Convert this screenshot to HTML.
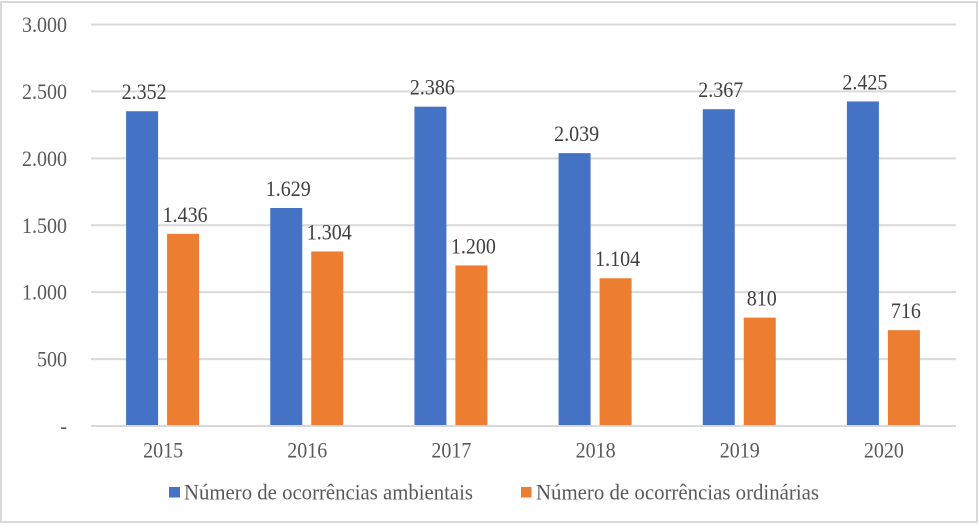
<!DOCTYPE html>
<html lang="pt">
<head>
<meta charset="utf-8">
<title>Número de ocorrências</title>
<style>
html,body{margin:0;padding:0;background:#fff;}
body{width:979px;height:525px;overflow:hidden;}
svg{display:block;font-family:"Liberation Serif",serif;}
</style>
</head>
<body>
<svg id="chart" width="979" height="525" viewBox="0 0 979 525" xmlns="http://www.w3.org/2000/svg">
  <rect x="1" y="2" width="976" height="520" fill="#fff" stroke="#d9d9d9" stroke-width="2"/>
  <g id="grid"></g>
  <g id="bars"></g>
  <g id="labels"></g>
  <g id="ticks"></g>
  <g>
    <rect x="169" y="487" width="11" height="10.5" fill="#4472c4"/>
    <text transform="translate(184 499.5) scale(1 1.08)" font-size="20.5" fill="#595959" textLength="289" lengthAdjust="spacingAndGlyphs">Número de ocorrências ambientais</text>
    <rect x="521" y="487" width="10.5" height="10.5" fill="#ed7d31"/>
    <text transform="translate(536 499.5) scale(1 1.08)" font-size="20.5" fill="#595959" textLength="283" lengthAdjust="spacingAndGlyphs">Número de ocorrências ordinárias</text>
  </g>
</svg>
<script>
const categories = ['2015', '2016', '2017', '2018', '2019', '2020'];
const ambientais = [2352, 1629, 2386, 2039, 2367, 2425];
const ordinarias = [1436, 1304, 1200, 1104, 810, 716];
const ambientaisLabels = ['2.352', '1.629', '2.386', '2.039', '2.367', '2.425'];
const ordinariasLabels = ['1.436', '1.304', '1.200', '1.104', '810', '716'];
const yTicks = [0, 500, 1000, 1500, 2000, 2500, 3000];
const yTickLabels = ['-', '500', '1.000', '1.500', '2.000', '2.500', '3.000'];

const NS = 'http://www.w3.org/2000/svg';
const plotLeft = 91, plotRight = 956, plotBottom = 426, plotTop = 24.5, yMax = 3000;
const barWidth = 32;
function yScale(v) { return plotBottom - (v / yMax) * (plotBottom - plotTop); }
function groupCenter(i) { return plotLeft + (i + 0.5) * (plotRight - plotLeft) / categories.length; }
function make(tag, attrs, parent, text) {
  const el = document.createElementNS(NS, tag);
  for (const k in attrs) el.setAttribute(k, attrs[k]);
  if (text !== undefined) el.textContent = text;
  parent.appendChild(el);
  return el;
}
function tallText(x, y, anchor, fill, parent, text) {
  return make('text', { transform: 'translate(' + x + ' ' + y + ') scale(1 1.09)', 'text-anchor': anchor, 'font-size': 20, fill: fill }, parent, text);
}
const grid = document.getElementById('grid');
const bars = document.getElementById('bars');
const labels = document.getElementById('labels');
const ticks = document.getElementById('ticks');

yTicks.forEach(function (t, i) {
  const y = yScale(t);
  const line = make('line', { x1: plotLeft, x2: plotRight, y1: y, y2: y, stroke: '#d9d9d9', 'stroke-width': 2 }, grid);
  
  
  const label = tallText(67, y + 7.5, 'end', '#595959', ticks, yTickLabels[i]);
  
  
});

categories.forEach(function (c, i) {
  const cx = groupCenter(i);
  const x1 = cx - 37;
  const x2 = cx + 4;
  const b1 = make('rect', { x: x1, y: yScale(ambientais[i]), width: barWidth, height: plotBottom - yScale(ambientais[i]) - 1, fill: '#4472c4' }, bars);
  
  
  const b2 = make('rect', { x: x2, y: yScale(ordinarias[i]), width: barWidth, height: plotBottom - yScale(ordinarias[i]) - 1, fill: '#ed7d31' }, bars);
  
  
  const l1 = tallText(x1 + barWidth / 2 + 2, yScale(ambientais[i]) - 12, 'middle', '#404040', labels, ambientaisLabels[i]);
  
  
  const l2 = tallText(x2 + barWidth / 2 + 2, yScale(ordinarias[i]) - 12, 'middle', '#404040', labels, ordinariasLabels[i]);
  
  
  const xl = tallText(cx, 457.5, 'middle', '#595959', ticks, c);
  
  
});
</script>
</body>
</html>
